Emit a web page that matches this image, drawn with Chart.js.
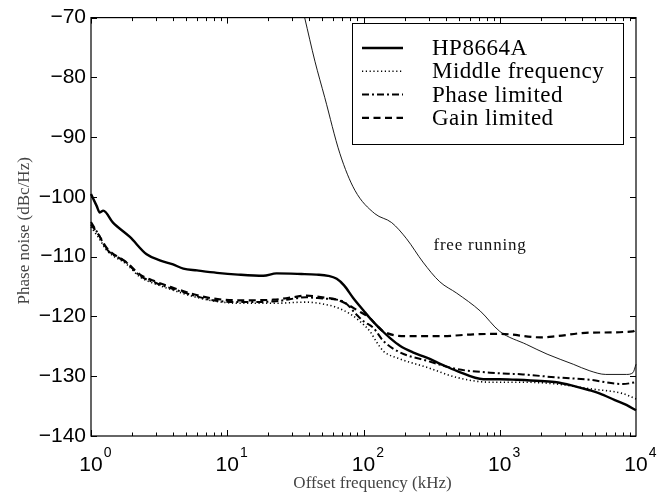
<!DOCTYPE html>
<html><head><meta charset="utf-8">
<script src="https://cdn.jsdelivr.net/npm/chart.js@4/dist/chart.umd.min.js"></script>
<style>html,body{margin:0;padding:0;background:#fff}#wrap{width:663px;height:497px}</style>
</head><body><div id="wrap"><canvas id="c" width="663" height="497"></canvas></div>
<script>
// Offset frequency (kHz) and phase noise (dBc/Hz)
const freqHP   = [1,1.1,1.16,1.23,1.45,1.93,2.56,3.2,4,4.76,6,8.4,12,18.4,23,35,45,55,63.6,72,84,100,111.6,125,140,160,185,230,291,380,483,758,1000,1331,2000,2617,3467,4500,5445,7000,8500,10000];
const noiseHP  = [-99.5,-101.5,-102.6,-102.3,-104.3,-106.7,-109.6,-110.6,-111.3,-112.0,-112.3,-112.7,-113.0,-113.2,-112.8,-112.9,-113.0,-113.2,-113.7,-114.8,-116.9,-119.0,-120.3,-121.5,-122.6,-123.8,-124.9,-126.0,-126.9,-128.1,-129.1,-130.5,-130.5,-130.6,-130.8,-131.0,-131.6,-132.3,-132.9,-134.0,-134.8,-135.7];

const freqMid  = [1,1.15,1.3,1.83,2.29,3,4,5.5,7.9,12.4,21.8,38,50,63.6,80,94,111.6,125,140,185,291,483,850,1480,2617,4584,8000,10000];
const noiseMid = [-105.0,-107.0,-108.9,-111.3,-113.4,-114.6,-115.6,-116.6,-117.4,-117.8,-117.8,-117.6,-117.9,-118.5,-119.6,-120.8,-122.5,-124.3,-125.8,-127.1,-128.5,-130.2,-131.0,-131.0,-131.3,-132.1,-132.9,-133.8];

const freqPh   = [1,1.15,1.3,1.83,2.29,3,4,5.5,7.9,12.4,21.8,38,50,71,89,100,118,140,185,291,483,850,1480,2617,4584,8000,10000];
const noisePh  = [-104.2,-106.5,-108.7,-111.0,-113.2,-114.4,-115.4,-116.4,-117.3,-117.6,-117.5,-116.8,-117.0,-117.5,-119.7,-120.8,-121.9,-124.1,-126.0,-127.4,-128.8,-129.4,-129.7,-130.2,-130.6,-131.3,-131.0];

const freqGain = [1,1.15,1.3,1.83,2.29,3,4,5.5,7.9,12.4,21.8,30,38,50,63.6,75,89,111.6,125,140,207,363,640,1000,1975,2600,4584,9500,10000];
const noiseGain= [-104.6,-106.5,-108.5,-111.0,-113.0,-114.2,-115.2,-116.2,-117.0,-117.3,-117.2,-116.8,-116.5,-116.8,-117.2,-117.9,-118.9,-120.3,-121.5,-122.5,-123.3,-123.3,-123.0,-122.9,-123.5,-123.3,-122.7,-122.5,-122.0];

const freqFree = [37,44,52,67,86.5,121,161,207,273,363,483,720,1000,1578,2225,3467,4584,6000,8500,9500,10000];
const noiseFree= [-70,-77.3,-83.4,-92.7,-98.9,-102.8,-104.3,-107.0,-110.9,-114.2,-116.1,-119.1,-122.5,-124.7,-126.3,-128.0,-129.1,-129.7,-129.7,-129.4,-128.0];

const seriesNames = ['HP8664A','Middle frequency','Phase limited','Gain limited'];
const xTickExps = [0,1,2,3,4];
const yTicks = [-140,-130,-120,-110,-100,-90,-80,-70];
const xTitle = 'Offset frequency (kHz)';
const yTitle = 'Phase noise (dBc/Hz)';
const freeLabel = 'free running';

const pts = (f,v) => f.map((x,i)=>({x:x,y:v[i]}));
const styles = [
  {borderWidth:2.4, borderDash:[]},
  {borderWidth:1.6, borderDash:[1.2,2.6]},
  {borderWidth:2.0, borderDash:[7,3,2,3]},
  {borderWidth:2.2, borderDash:[7,4.5]}
];

const decor = {
  id:'decor',
  afterDraw(chart){
    const ctx = chart.ctx, a = chart.chartArea;
    const xs = chart.scales.x, ys = chart.scales.y;
    ctx.save();
    ctx.strokeStyle = '#000'; ctx.lineWidth = 1.2; ctx.setLineDash([]);
    ctx.strokeRect(a.left, a.top, a.right-a.left, a.bottom-a.top);
    ctx.lineWidth = 1;
    ctx.beginPath();
    yTicks.forEach(v=>{
      const y = Math.round(ys.getPixelForValue(v))+0.5;
      ctx.moveTo(a.left,y); ctx.lineTo(a.left+6,y);
      ctx.moveTo(a.right,y); ctx.lineTo(a.right-6,y);
    });
    for(let e=0;e<4;e++){
      for(let m=1;m<10;m++){
        const f = m*Math.pow(10,e);
        const x = Math.round(xs.getPixelForValue(f))+0.5;
        const L = m===1?6:3.5;
        ctx.moveTo(x,a.bottom); ctx.lineTo(x,a.bottom-L);
        ctx.moveTo(x,a.top); ctx.lineTo(x,a.top+L);
      }
    }
    ctx.stroke();
    // x tick labels 10^n
    ctx.fillStyle = '#000';
    xTickExps.forEach(e=>{
      const x = xs.getPixelForValue(Math.pow(10,e));
      ctx.font = '21px "Liberation Sans", Arial, sans-serif';
      ctx.textAlign = 'center'; ctx.textBaseline = 'alphabetic';
      ctx.fillText('10', x, 471);
      const w = ctx.measureText('10').width;
      ctx.font = '14px "Liberation Sans", Arial, sans-serif';
      ctx.textAlign = 'left';
      ctx.fillText(String(e), x + w/2 + 1, 457);
    });
    // axis titles
    ctx.fillStyle = '#444';
    ctx.font = '17px "Liberation Serif", "DejaVu Serif", serif';
    ctx.textAlign = 'center'; ctx.textBaseline = 'middle';
    ctx.fillText(xTitle, (a.left+a.right)/2 + 9, 484);
    ctx.save();
    ctx.translate(25, (a.top+a.bottom)/2 + 4);
    ctx.rotate(-Math.PI/2);
    ctx.fillText(yTitle, 0, 0);
    ctx.restore();
    // free running label
    ctx.fillStyle = '#111';
    ctx.font = '17px "Liberation Serif", serif';
    ctx.letterSpacing = '0.8px';
    ctx.textAlign = 'center';
    ctx.fillText(freeLabel, 480, 246);
    // legend
    const lx = 352, ly = 23, lw = 271, lh = 121;
    ctx.fillStyle = '#fff';
    ctx.fillRect(lx, ly, lw, lh);
    ctx.strokeStyle = '#000'; ctx.lineWidth = 1;
    ctx.strokeRect(lx+0.5, ly+0.5, lw, lh);
    seriesNames.forEach((n,i)=>{
      const y = 48 + i*23.3;
      const s = styles[i];
      ctx.beginPath();
      ctx.lineWidth = s.borderWidth; ctx.setLineDash(s.borderDash);
      ctx.moveTo(362,y); ctx.lineTo(403,y); ctx.stroke();
      ctx.setLineDash([]);
      ctx.fillStyle = '#000';
      ctx.font = '23px "Liberation Serif", "DejaVu Serif", serif';
      ctx.letterSpacing = '0.5px';
      ctx.textAlign = 'left'; ctx.textBaseline = 'middle';
      ctx.fillText(n, 432, y+1);
    });
    ctx.letterSpacing = '0px';
    ctx.restore();
  }
};

const ds = [
  {label:seriesNames[0], data:pts(freqHP,noiseHP), ...styles[0]},
  {label:seriesNames[1], data:pts(freqMid,noiseMid), ...styles[1]},
  {label:seriesNames[2], data:pts(freqPh,noisePh), ...styles[2]},
  {label:seriesNames[3], data:pts(freqGain,noiseGain), ...styles[3]},
  {label:freeLabel, data:pts(freqFree,noiseFree), borderWidth:0.9, borderDash:[]}
].map(d=>Object.assign({borderColor:'#000', backgroundColor:'#000', pointRadius:0, fill:false, tension:0.25, cubicInterpolationMode:'monotone', clip:false}, d));

new Chart(document.getElementById('c'), {
  type:'line',
  data:{datasets:ds},
  options:{
    responsive:false, animation:false,
    layout:{padding:{left:0,right:27,top:13,bottom:0}},
    plugins:{legend:{display:false}, tooltip:{enabled:false}},
    scales:{
      x:{type:'logarithmic', min:1, max:10000,
         grid:{display:false}, border:{display:false},
         ticks:{display:false},
         afterFit(s){ s.height = 61; }},
      y:{type:'linear', min:-140, max:-70,
         grid:{display:false, drawTicks:false}, border:{display:false},
         afterBuildTicks(s){ s.ticks = yTicks.map(v=>({value:v})); },
         ticks:{color:'#000', padding:5, font:{family:'"Liberation Sans", Arial, sans-serif', size:21},
                callback:v => (v<0?'\u2212':'') + Math.abs(v)},
         afterFit(s){ s.width = 91; }}
    }
  },
  plugins:[decor]
});
</script></body></html>
